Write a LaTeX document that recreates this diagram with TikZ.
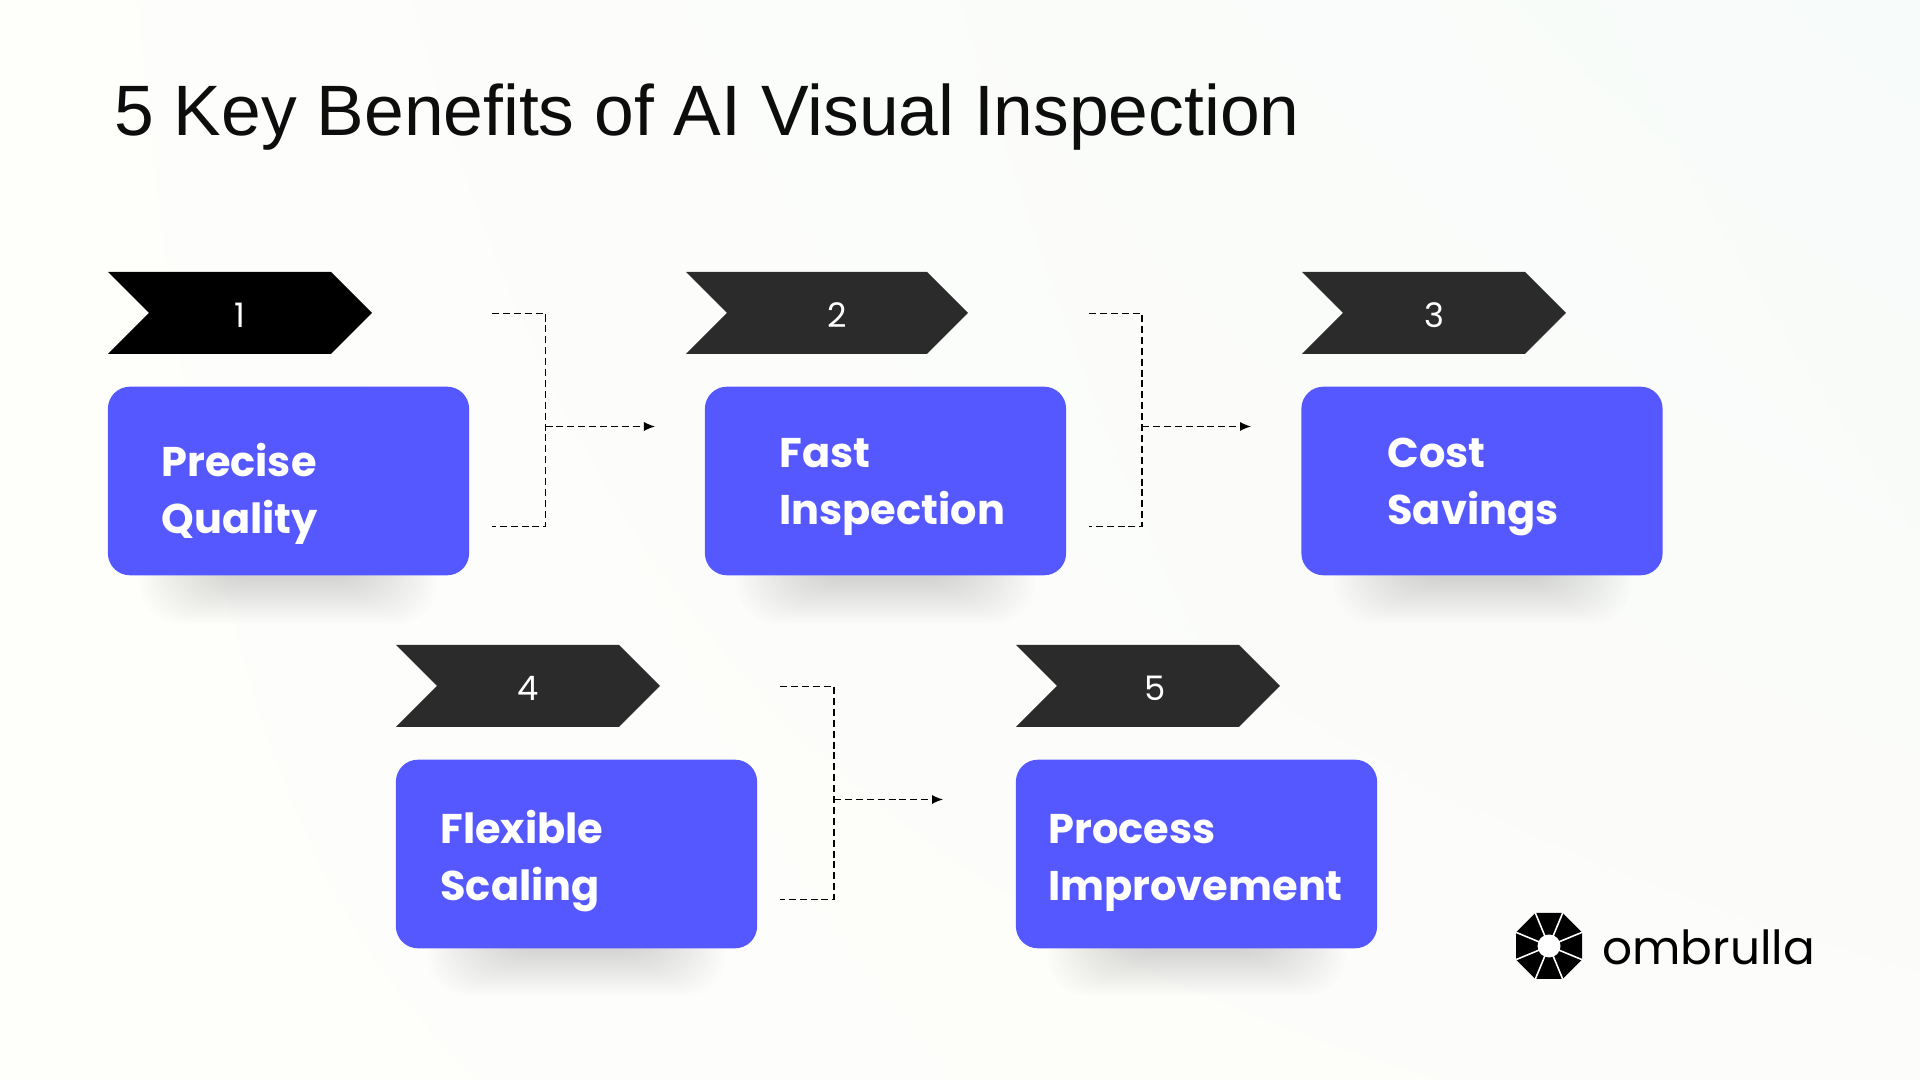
\documentclass[tikz,border=0pt]{standalone}
\usepackage{fontspec}
\setmainfont{Liberation Sans}
\newfontfamily\boxfont{Poppins}
\usepackage{tikz}
\usetikzlibrary{arrows.meta}
\usetikzlibrary{calc,shapes.geometric,shadings}
\definecolor{boxblue}{HTML}{5558FF}
\definecolor{tagdark}{HTML}{2B2B2B}
\definecolor{bglow}{HTML}{FEFEFB}
\definecolor{bgright}{HTML}{FCFCFA}
\definecolor{bgtop}{HTML}{F7FBF9}
\tikzset{
	x=0.01cm,y=-0.01cm,
	benefit/.style={fill=boxblue,rounded corners=0.22cm,minimum width=3.61cm,minimum height=1.885cm,inner sep=0pt},
	benefittext/.style={text=white,font=\boxfont\bfseries\fontsize{11.8}{16.2}\selectfont,align=left,anchor=west},
	tagnum/.style={text=white,font=\boxfont\fontsize{9.6}{11}\selectfont},
	dashline/.style={dash pattern=on 2pt off 1.1pt,line width=0.3pt,black},
	dasharrow/.style={dashline,-{Latex[length=1.1mm,width=0.9mm]}}
}
\newcommand{\tagshape}[4]{
	\fill [#3] (#1,#2-41) -- ++(#4,0) -- ++(41,41) -- ++(-41,41) -- ++(-#4,0) -- ++(41,-41) -- cycle;
}
\newcommand{\softshadow}[2]{
	\foreach \i in {0,...,19}
		\fill [black,opacity=0.008,rounded corners=0.4cm] (#1+100-3.6*\i,#2-60) rectangle (#1+261+3.6*\i,#2+4+2.3*\i);
}
\begin{document}
\begin{tikzpicture}
	\useasboundingbox (0,0) rectangle (1920,1080);
	\shade [shading=bilinear interpolation,lower left=bglow,lower right=bgright,upper left=bglow,upper right=bgtop] (0,0) rectangle (1920,1080);
	\node [anchor=west,font=\fontsize{20.3}{24}\selectfont,text=black!95] (title) at (102,117) {5 Key Benefits of AI Visual Inspection};
	\softshadow{108}{576}
	\softshadow{705}{576}
	\softshadow{1302}{576}
	\softshadow{396}{948}
	\softshadow{1016}{948}
	\tagshape{108}{313}{black}{223}
	\tagshape{686}{313}{tagdark}{241}
	\tagshape{1302}{313}{tagdark}{223}
	\tagshape{396}{686}{tagdark}{223}
	\tagshape{1016}{686}{tagdark}{223}
	\node [tagnum] (num1) at (240,315) {1};
	\node [tagnum] (num2) at (837,315) {2};
	\node [tagnum] (num3) at (1434,315) {3};
	\node [tagnum] (num4) at (528,688) {4};
	\node [tagnum] (num5) at (1155,688) {5};
	\node [benefit] (box1) at (288.5,481) {};
	\node [benefit] (box2) at (885.5,481) {};
	\node [benefit] (box3) at (1482,481) {};
	\node [benefit] (box4) at (576.5,854) {};
	\node [benefit] (box5) at (1196.5,854) {};
	\node [benefittext] (text1) at (149,494) {Precise\\Quality};
	\node [benefittext] (text2) at (767,487) {Fast\\Inspection};
	\node [benefittext] (text3) at (1375,487) {Cost\\Savings};
	\node [benefittext] (text4) at (428,861) {Flexible\\Scaling};
	\node [benefittext] (text5) at (1036,863) {Process\\Improvement};
	\coordinate (a1) at (492,313.5);
	\coordinate (b1) at (492,526.5);
	\coordinate (c1) at (545.5,426.5);
	\coordinate (d1) at (655,426.5);
	\coordinate (a2) at (1089,313.5);
	\coordinate (b2) at (1089,526.5);
	\coordinate (c2) at (1142,426.5);
	\coordinate (d2) at (1251,426.5);
	\coordinate (a3) at (780,686.5);
	\coordinate (b3) at (780,899.5);
	\coordinate (c3) at (834,799.5);
	\coordinate (d3) at (943,799.5);
	\draw [dashline] (a1) -| (c1) |- (b1);
	\draw [dasharrow] (c1) -- (d1);
	\draw [dashline] (a2) -| (c2) |- (b2);
	\draw [dasharrow] (c2) -- (d2);
	\draw [dashline] (a3) -| (c3) |- (b3);
	\draw [dasharrow] (c3) -- (d3);
	\node [regular polygon,regular polygon sides=8,fill=black,minimum size=0.714cm,inner sep=0pt] (hub) at (1549,946) {};
	\foreach \i in {1,...,8}
		\draw [white,line width=0.45pt] (hub.center) -- (hub.corner \i);
	\fill [white] (hub.center) circle (11.5);
	\node [anchor=west,font=\boxfont\fontsize{13.35}{15}\selectfont] (brand) at (1590,947) {ombrulla};
\end{tikzpicture}
\end{document}
